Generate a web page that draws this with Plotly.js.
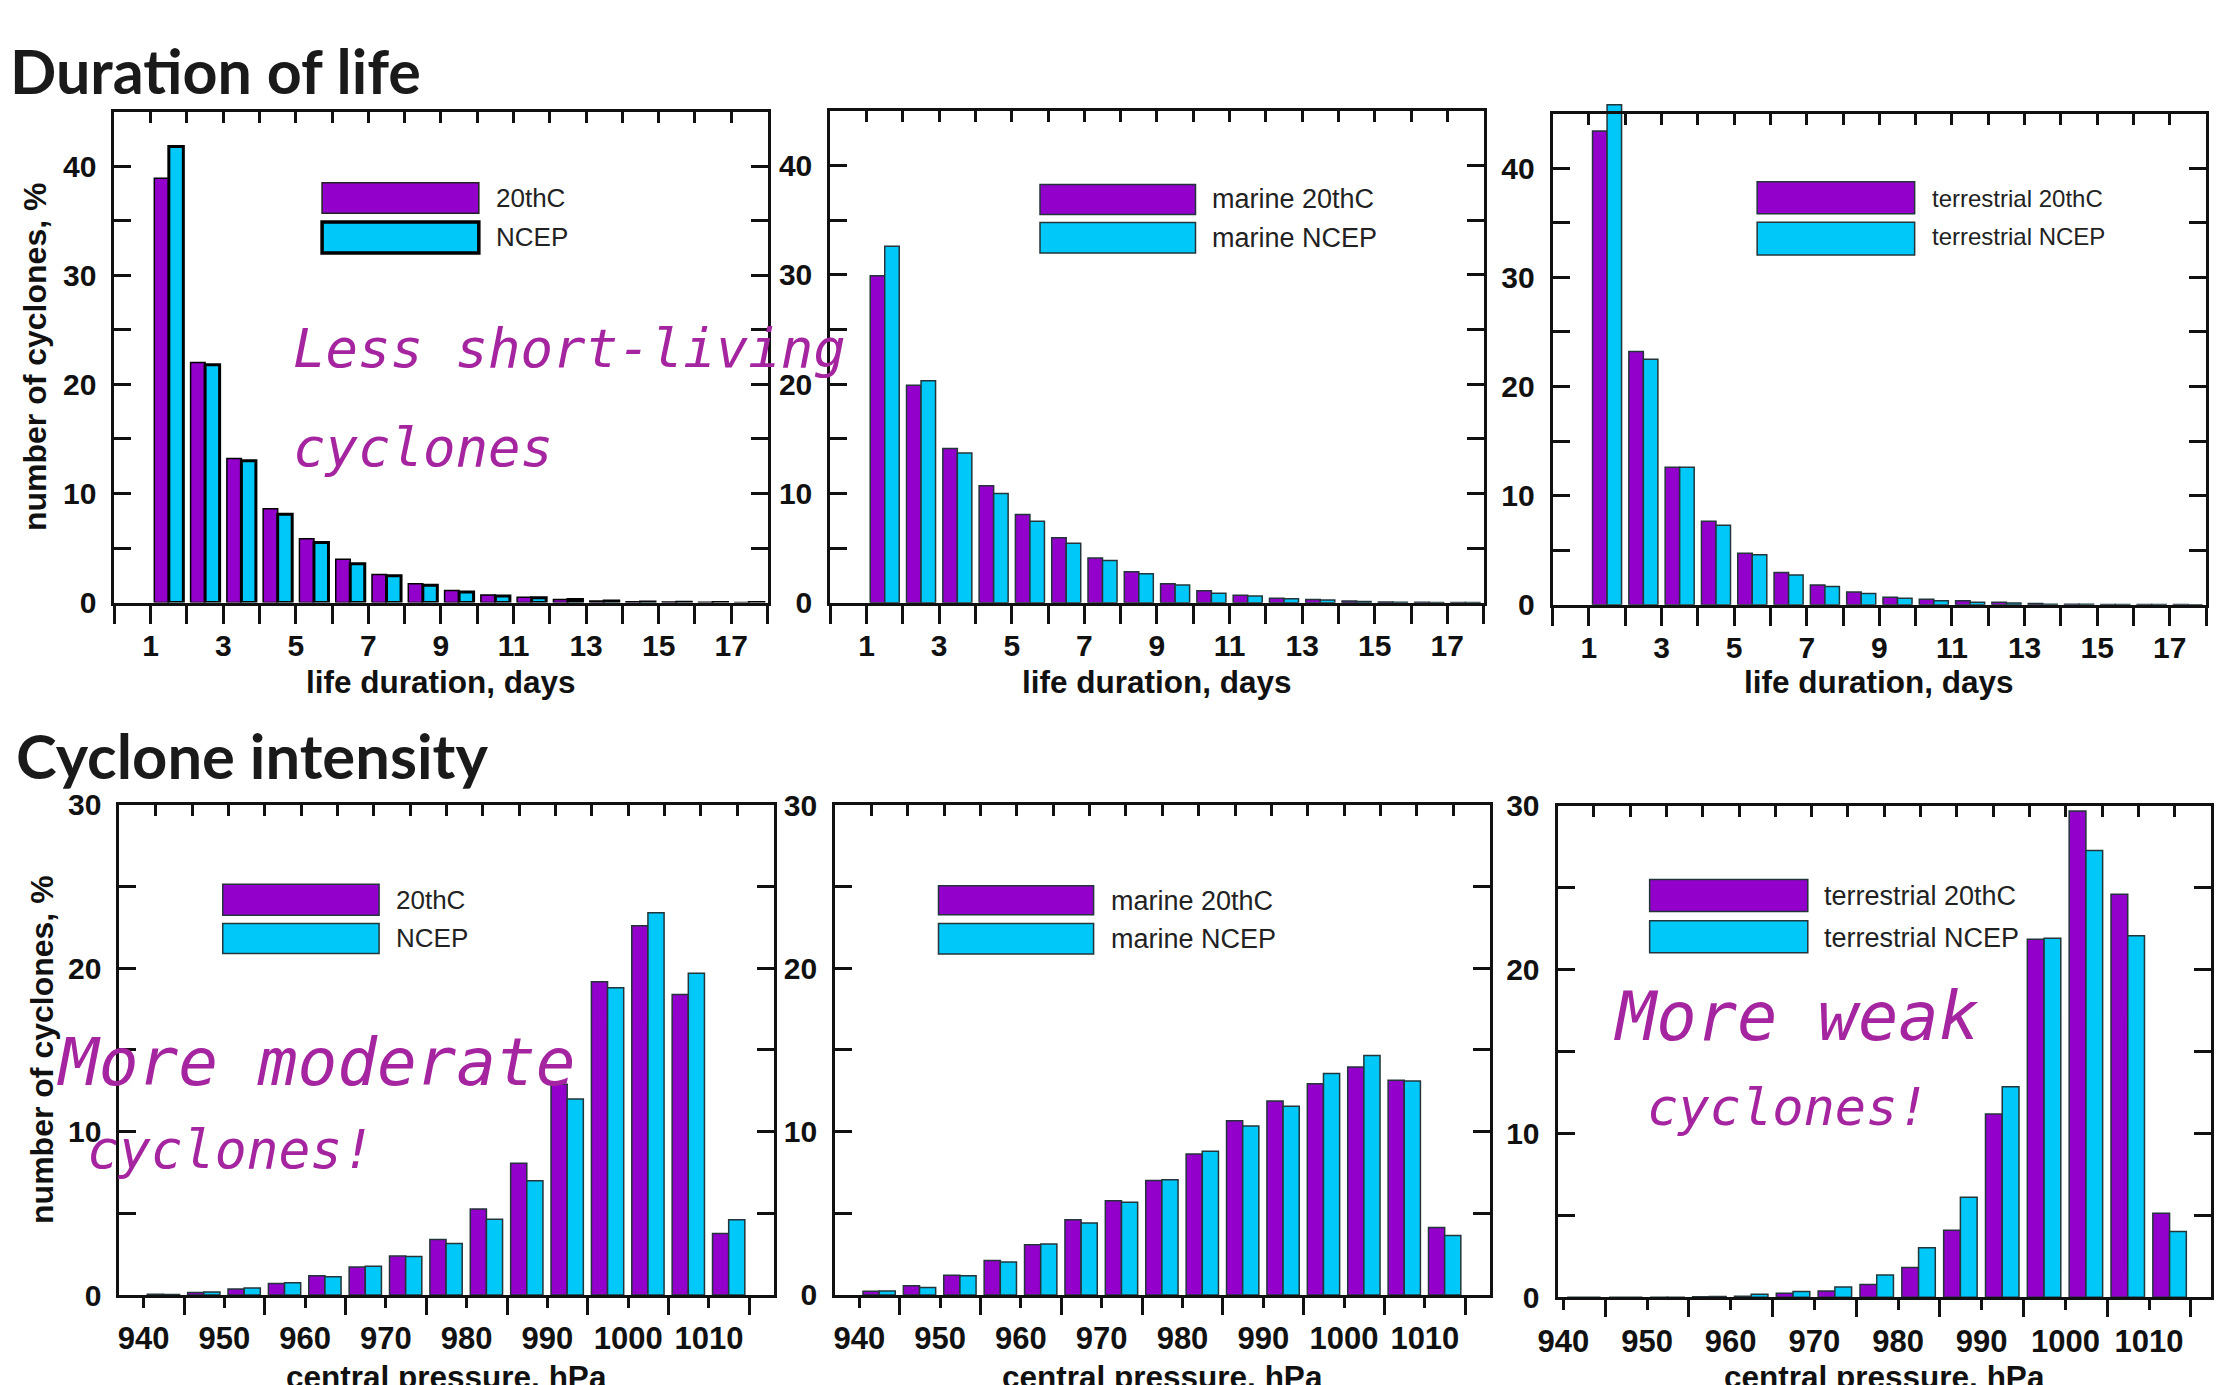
<!DOCTYPE html>
<html>
<head>
<meta charset="utf-8">
<script src="https://cdn.plot.ly/plotly-3.0.1.min.js"></script>
<style>
html,body{margin:0;padding:0;background:#fff;}
#chart{width:2239px;height:1385px;}
</style>
</head>
<body>
<div id="chart"></div>
<script>
// ---------------- DATA ----------------
const days = [1,2,3,4,5,6,7,8,9,10,11,12,13,14,15,16,17];
const dayTickLabels = ['1','3','5','7','9','11','13','15','17'];

const life20thC        = [38.9, 22.0, 13.2, 8.6, 5.85, 3.97, 2.58, 1.72, 1.10, 0.70, 0.50, 0.28, 0.15, 0.08, 0.05, 0.03, 0.02];
const lifeNCEP         = [41.8, 21.8, 13.0, 8.1, 5.50, 3.56, 2.46, 1.60, 0.98, 0.60, 0.45, 0.28, 0.15, 0.06, 0.04, 0.02, 0.01];
const marineLife20thC  = [29.9, 19.9, 14.1, 10.7, 8.07, 5.94, 4.09, 2.82, 1.74, 1.09, 0.69, 0.40, 0.29, 0.15, 0.07, 0.03, 0.02];
const marineLifeNCEP   = [32.6, 20.3, 13.7, 10.0, 7.46, 5.43, 3.87, 2.64, 1.63, 0.87, 0.62, 0.36, 0.25, 0.10, 0.05, 0.02, 0.01];
const terrLife20thC    = [43.4, 23.2, 12.6, 7.65, 4.71, 2.94, 1.81, 1.16, 0.69, 0.51, 0.36, 0.22, 0.12, 0.05, 0.02, 0.01, 0.01];
const terrLifeNCEP     = [45.8, 22.5, 12.6, 7.29, 4.57, 2.72, 1.67, 1.02, 0.58, 0.36, 0.22, 0.15, 0.05, 0.03, 0.01, 0.01, 0.00];

const pressureBins = [940,945,950,955,960,965,970,975,980,985,990,995,1000,1005,1010];
const pressureTickLabels = ['940','950','960','970','980','990','1000','1010'];

const press20thC       = [0.05, 0.16, 0.37, 0.70, 1.18, 1.71, 2.38, 3.40, 5.27, 8.07, 12.9, 19.17, 22.6, 18.4, 3.77];
const pressNCEP        = [0.03, 0.19, 0.43, 0.75, 1.12, 1.76, 2.35, 3.16, 4.63, 7.00, 12.0, 18.8, 23.4, 19.7, 4.60];
const marinePress20thC = [0.22, 0.56, 1.20, 2.10, 3.07, 4.60, 5.76, 7.00, 8.63, 10.66, 11.88, 12.93, 13.95, 13.15, 4.12];
const marinePressNCEP  = [0.24, 0.46, 1.17, 2.02, 3.12, 4.41, 5.68, 7.05, 8.80, 10.34, 11.56, 13.56, 14.66, 13.10, 3.63];
const terrPress20thC   = [0.00, 0.00, 0.01, 0.03, 0.07, 0.24, 0.39, 0.78, 1.82, 4.09, 11.19, 21.85, 29.68, 24.6, 5.13];
const terrPressNCEP    = [0.00, 0.00, 0.01, 0.05, 0.19, 0.36, 0.63, 1.36, 3.02, 6.10, 12.85, 21.92, 27.27, 22.07, 4.01];

const lifeYTicks = [0,10,20,30,40];
const lifeYMinor = [5,15,25,35];
const pressYTicks = [0,10,20,30];
const pressYMinor = [5,15,25];

const seriesNames = [
  ['20thC','NCEP'],
  ['marine 20thC','marine NCEP'],
  ['terrestrial 20thC','terrestrial NCEP'],
  ['20thC','NCEP'],
  ['marine 20thC','marine NCEP'],
  ['terrestrial 20thC','terrestrial NCEP']
];

const headings = ['Duration of life','Cyclone intensity'];
const xTitles = ['life duration, days','central pressure, hPa'];
const yTitle = 'number of cyclones, %';
const notes = ['Less short-living','cyclones','More moderate','cyclones!','More weak','cyclones!'];

// ---------------- STYLE / LAYOUT ----------------
const W = 2239, H = 1385;
const px = v => v / W;
const py = v => 1 - v / H;
const HEAD = 16; // px of headroom above each frame so tall bars may poke out

const PURPLE = '#9300CB';
const CYAN = '#00C8F8';
const INK = '#111111';
const NOTE = '#A5249F';
const OUTLINE = '#23343a';

const lifeOdd = days.filter(d => d % 2 === 1);
const lifeEven = [0].concat(days.filter(d => d % 2 === 0), [18]);
const pressMajor = pressureBins.filter(b => b % 10 === 0);
const pressMinor = pressureBins.filter(b => b % 10 === 5).concat([1015]);

const panels = [
  {x0:114.4, x1:767.5, y0:111.6, y1:602.6, kind:'life', xr:[0,18], a:life20thC, b:lifeNCEP, heavy:true, lf:26,
   leg:{bx0:0.318, bx1:0.558, ay0:0.793, ay1:0.855, by0:0.712, by1:0.775, tx:0.581, ta:0.824, tb:0.744}},
  {x0:830.3, x1:1483.6, y0:110.8, y1:602.7, kind:'life', xr:[0,18], a:marineLife20thC, b:marineLifeNCEP, heavy:false, lf:27,
   leg:{bx0:0.321, bx1:0.559, ay0:0.789, ay1:0.850, by0:0.711, by1:0.773, tx:0.581, ta:0.820, tb:0.742}},
  {x0:1552.6, x1:2206.1, y0:113.6, y1:604.7, kind:'life', xr:[0,18], a:terrLife20thC, b:terrLifeNCEP, heavy:false, lf:24,
   leg:{bx0:0.313, bx1:0.554, ay0:0.796, ay1:0.861, by0:0.712, by1:0.779, tx:0.577, ta:0.828, tb:0.749}},
  {x0:119.4, x1:773.5, y0:804.9, y1:1295, kind:'press', xr:[937,1018], a:press20thC, b:pressNCEP, heavy:false, lf:26,
   leg:{bx0:0.158, bx1:0.397, ay0:0.775, ay1:0.838, by0:0.697, by1:0.758, tx:0.420, ta:0.806, tb:0.729}},
  {x0:835.1, x1:1489.5, y0:805, y1:1294.9, kind:'press', xr:[937,1018], a:marinePress20thC, b:marinePressNCEP, heavy:false, lf:27,
   leg:{bx0:0.158, bx1:0.395, ay0:0.776, ay1:0.835, by0:0.696, by1:0.758, tx:0.418, ta:0.805, tb:0.727}},
  {x0:1557.5, x1:2211, y0:805.8, y1:1297.3, kind:'press', xr:[939.3,1017.4], a:terrPress20thC, b:terrPressNCEP, heavy:false, lf:27,
   leg:{bx0:0.141, bx1:0.383, ay0:0.785, ay1:0.850, by0:0.701, by1:0.766, tx:0.405, ta:0.816, tb:0.732}}
];

const tickFont = {family:'Liberation Sans, Arial, sans-serif', size:30, weight:'bold', color:INK};
const axisCommon = {showgrid:false, zeroline:false, showline:true, linecolor:INK, linewidth:3,
                    tickcolor:INK, tickwidth:3, tickfont:tickFont, layer:'above traces'};

const layout = {
  width:W, height:H, margin:{l:0,r:0,t:0,b:0}, paper_bgcolor:'#ffffff', plot_bgcolor:'rgba(0,0,0,0)',
  showlegend:false, barmode:'overlay', shapes:[], annotations:[],
  font:{family:'Liberation Sans, Arial, sans-serif', color:INK}
};
const traces = [];

panels.forEach((p, k) => {
  const i = k + 1;
  const fy = i + 12;             // frame y axis (ticks, labels, frame lines)
  const life = p.kind === 'life';
  const cats = life ? days : pressureBins;
  const ytop = life ? 45 : 30;
  const pxPerUnit = (p.y1 - p.y0) / ytop;
  const bw = life ? 0.4 : 2.0;
  const offA = life ? 0.1 : 0.45;
  const offB = life ? 0.5 : 2.45;

  layout['xaxis' + i] = Object.assign({}, axisCommon, {
    domain:[px(p.x0), px(p.x1)], anchor:'y' + fy, range:p.xr, mirror:true,
    tickmode:'array',
    tickvals: life ? lifeOdd : pressMajor,
    ticktext: life ? dayTickLabels : pressureTickLabels,
    ticks:'outside', ticklen: life ? 18 : 10,
    tickfont: life ? tickFont : Object.assign({}, tickFont, {size:31}),
    minor:{tickmode:'array', tickvals: life ? lifeEven : pressMinor, ticks:'outside',
           ticklen: life ? 18 : 17, tickwidth:3, tickcolor:INK},
    ticklabelstandoff: life ? -4 : 4
  });
  layout['xaxis' + (i + 6)] = {
    overlaying:'x' + i, anchor:'y' + fy, side:'top', range:[0,18],
    tickmode:'array', tickvals:days, ticks:'inside', ticklen:11, tickwidth:3, tickcolor:INK,
    showticklabels:false, showline:false, showgrid:false, zeroline:false
  };
  // bars axis: same scale as the frame axis, with some headroom above the frame
  layout['yaxis' + i] = {
    visible:false, domain:[py(p.y1), py(p.y0 - HEAD)], anchor:'x' + i,
    range:[0, ytop + HEAD / pxPerUnit], showgrid:false, zeroline:false
  };
  layout['yaxis' + fy] = Object.assign({}, axisCommon, {
    domain:[py(p.y1), py(p.y0)], anchor:'x' + i, range:[0, ytop], mirror:'allticks',
    tickmode:'array', tickvals: life ? lifeYTicks : pressYTicks,
    ticks:'inside', ticklen:17,
    minor:{tickmode:'array', tickvals: life ? lifeYMinor : pressYMinor, ticks:'inside', ticklen:10, tickwidth:3, tickcolor:INK},
    ticklabelstandoff: 9
  });

  traces.push({type:'bar', name:seriesNames[k][0], x:cats, y:p.a, xaxis:'x' + i, yaxis:'y' + i,
    offset:offA, width:bw, hoverinfo:'skip', showlegend:false,
    marker:{color:PURPLE, line:{color: p.heavy ? '#000' : OUTLINE, width: 1.5}}});
  traces.push({type:'bar', name:seriesNames[k][1], x:cats, y:p.b, xaxis:'x' + i, yaxis:'y' + i,
    offset:offB, width:bw, hoverinfo:'skip', showlegend:false,
    marker:{color:CYAN, line:{color: p.heavy ? '#000' : OUTLINE, width: p.heavy ? 3 : 1.5}}});
  traces.push({type:'scatter', x:[], y:[], xaxis:'x' + i, yaxis:'y' + fy, showlegend:false, hoverinfo:'skip'});
  traces.push({type:'scatter', x:[], y:[], xaxis:'x' + (i + 6), yaxis:'y' + fy, showlegend:false, hoverinfo:'skip'});

  // legend boxes
  const xr = 'x' + i + ' domain', yr = 'y' + fy + ' domain';
  layout.shapes.push({type:'rect', xref:xr, yref:yr, x0:p.leg.bx0, x1:p.leg.bx1, y0:p.leg.ay0, y1:p.leg.ay1,
    fillcolor:PURPLE, line:{color: p.heavy ? '#222' : OUTLINE, width:1.5}, layer:'above'});
  layout.shapes.push({type:'rect', xref:xr, yref:yr, x0:p.leg.bx0, x1:p.leg.bx1, y0:p.leg.by0, y1:p.leg.by1,
    fillcolor:CYAN, line:{color: p.heavy ? '#000' : OUTLINE, width: p.heavy ? 3.5 : 1.5}, layer:'above'});
  const legFont = {family:'Liberation Sans, Arial, sans-serif', size:p.lf, color:'#222'};
  layout.annotations.push({xref:xr, yref:yr, x:p.leg.tx, y:p.leg.ta, xanchor:'left', yanchor:'middle',
    text:seriesNames[k][0], showarrow:false, font:legFont});
  layout.annotations.push({xref:xr, yref:yr, x:p.leg.tx, y:p.leg.tb, xanchor:'left', yanchor:'middle',
    text:seriesNames[k][1], showarrow:false, font:legFont});

  // axis titles
  const titleFont = {family:'Liberation Sans, Arial, sans-serif', size:31.5, weight:'bold', color:INK};
  layout.annotations.push({xref:xr, yref:'paper', x:0.5, y: life ? py(682) : py(1377),
    xanchor:'center', yanchor:'middle', text: life ? xTitles[0] : xTitles[1], showarrow:false, font:titleFont});
  if (k === 0 || k === 3) {
    layout.annotations.push({xref:'paper', yref:yr, x: k === 0 ? px(35) : px(42), y:0.5,
      xanchor:'center', yanchor:'middle', textangle:-90, text:yTitle, showarrow:false,
      font:Object.assign({}, titleFont, {size:32})});
  }
});

// headings
const headFont = {family:'Lato, Open Sans, sans-serif', size:61, weight:'bold', color:'#1a1a1a'};
layout.annotations.push({xref:'paper', yref:'paper', x:px(8), y:py(70), xanchor:'left', yanchor:'middle',
  text:headings[0], showarrow:false, font:headFont});
layout.annotations.push({xref:'paper', yref:'paper', x:px(14), y:py(755), xanchor:'left', yanchor:'middle',
  text:headings[1], showarrow:false, font:Object.assign({}, headFont, {size:61.5})});

// handwritten notes
const noteSpec = [
  {x:291, y:348, s:54}, {x:291, y:447.8, s:54},
  {x:55, y:1062, s:66}, {x:85, y:1149, s:53},
  {x:1612, y:1017, s:67}, {x:1645, y:1107, s:52}
];
noteSpec.forEach((n, j) => {
  layout.annotations.push({xref:'paper', yref:'paper', x:px(n.x), y:py(n.y), xanchor:'left', yanchor:'middle',
    text:notes[j], showarrow:false,
    font:{family:'DejaVu Sans Mono, monospace', size:n.s, color:NOTE, style:'italic'}});
});

Plotly.newPlot('chart', traces, layout, {staticPlot:true, displayModeBar:false});
</script>
</body>
</html>
